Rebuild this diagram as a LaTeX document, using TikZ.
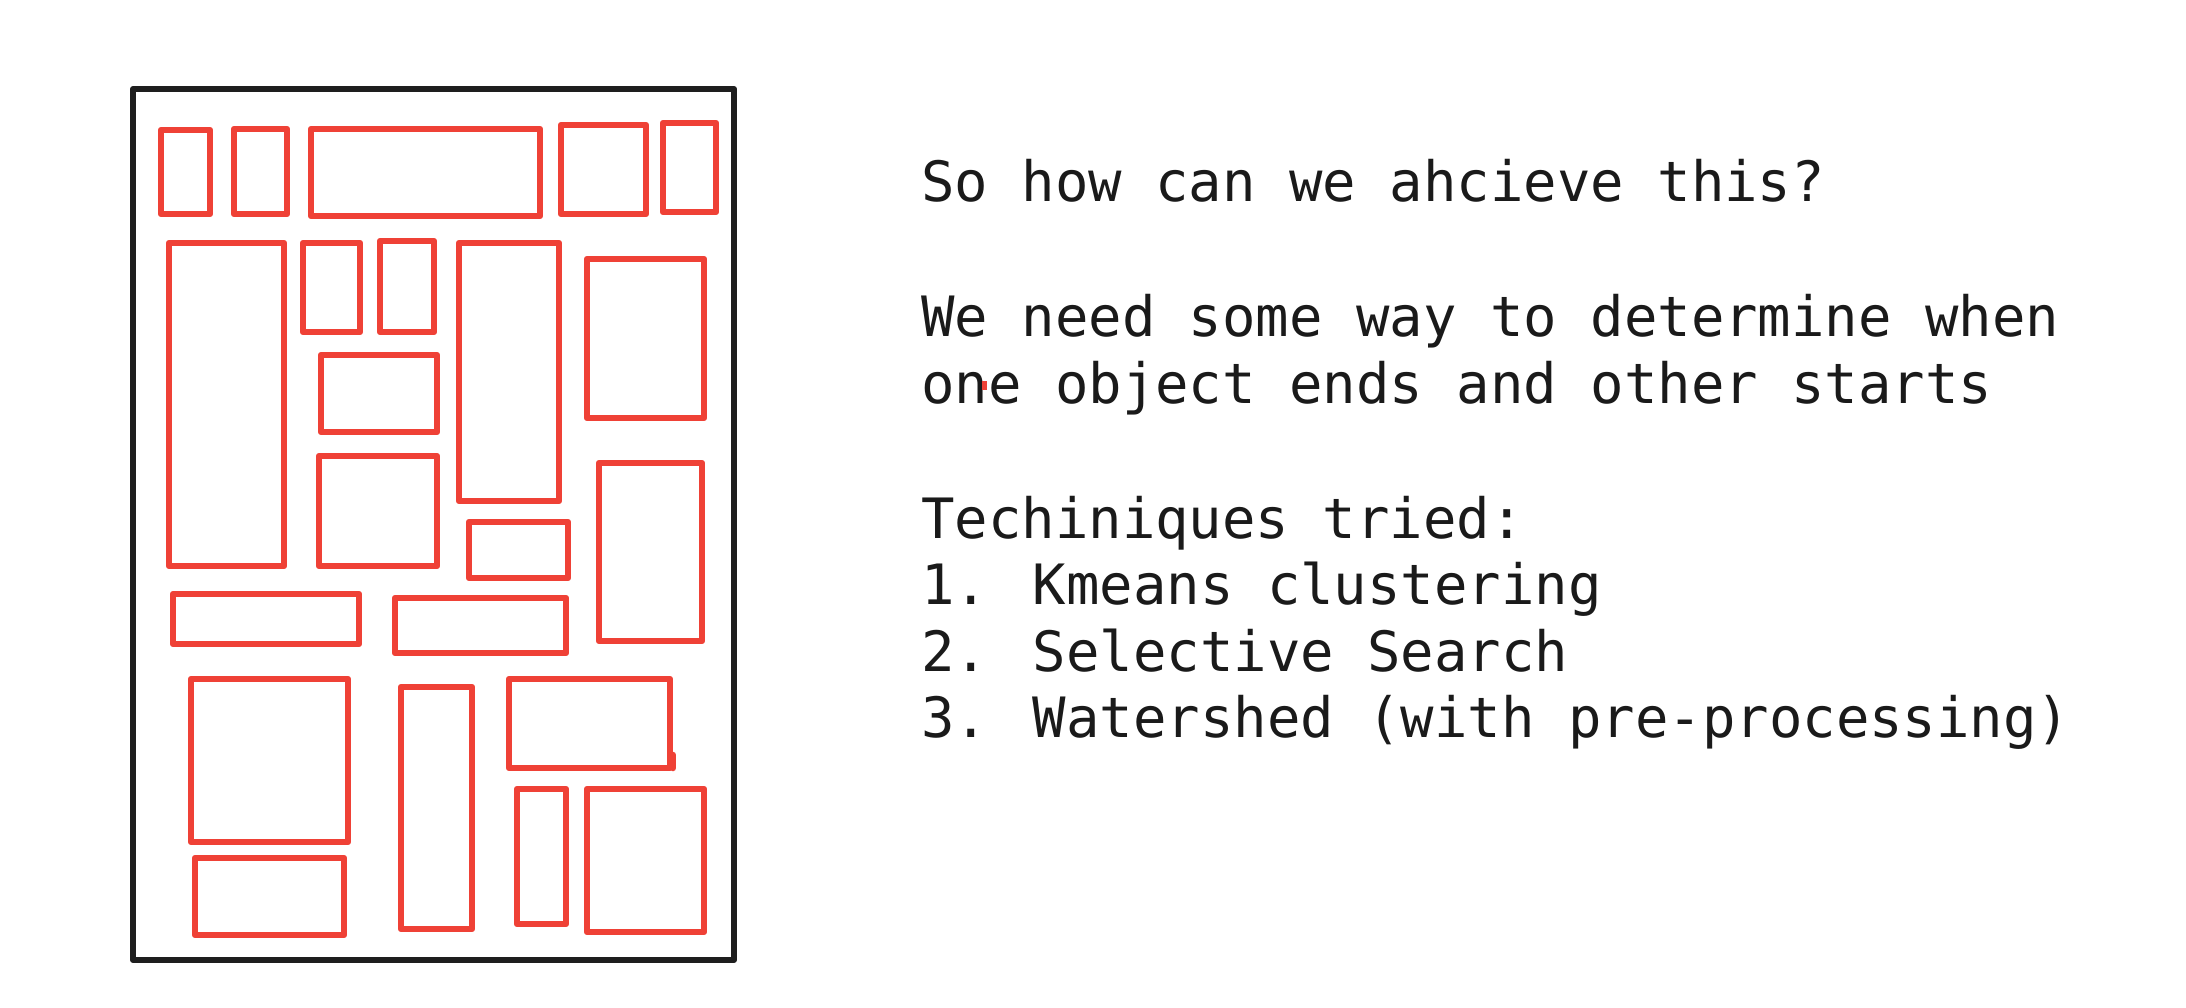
\documentclass[tikz,border=0pt]{standalone}
\usepackage{fontspec}
\newfontfamily\monofont{DejaVu Sans Mono}
\definecolor{boxred}{HTML}{EF4136}
\definecolor{framek}{HTML}{1E1E1E}
\definecolor{textk}{HTML}{1A1A1A}
\begin{document}
\begin{tikzpicture}[x=1pt,y=-1pt,
  redbox/.style={draw=boxred,line width=6.5pt,line join=round,line cap=round},
  framebox/.style={draw=framek,line width=6pt,line join=round},
  txt/.style={anchor=base west,inner sep=0pt,text=textk,font=\monofont\fontsize{55.6}{67}\selectfont}]
\useasboundingbox (0,0) rectangle (2186,1008);
\fill[white] (0,0) rectangle (2186,1008);
% frame
\draw[framebox] (133,89) rectangle (734,960);
% red boxes
\draw[redbox] (161,130) rectangle (210,214);
\draw[redbox] (234,129) rectangle (287,214);
\draw[redbox] (311,129) rectangle (540,216);
\draw[redbox] (561,125) rectangle (646,214);
\draw[redbox] (663,123) rectangle (716,212);
\draw[redbox] (169,243) rectangle (284,566);
\draw[redbox] (303,243) rectangle (360,332);
\draw[redbox] (380,241) rectangle (434,332);
\draw[redbox] (459,243) rectangle (559,501);
\draw[redbox] (587,259) rectangle (704,418);
\draw[redbox] (321,355) rectangle (437,432);
\draw[redbox] (319,456) rectangle (437,566);
\draw[redbox] (469,522) rectangle (568,578);
\draw[redbox] (599,463) rectangle (702,641);
\draw[redbox] (173,594) rectangle (359,644);
\draw[redbox] (395,598) rectangle (566,653);
\draw[redbox] (191,679) rectangle (348,842);
\draw[redbox] (401,687) rectangle (472,929);
\draw[redbox] (509,679) rectangle (670,768);
\draw[redbox] (673,755) -- (673,768);
\draw[redbox] (517,789) rectangle (566,924);
\draw[redbox] (587,789) rectangle (704,932);
\draw[redbox] (195,858) rectangle (344,935);
% text
\node[txt] (t1) at (921,202) {So how can we ahcieve this?};
\node[txt] (t2) at (921,336) {We need some way to determine when};
\node[txt] (t3) at (921,403) {one object ends and other starts};
\node[txt] (t4) at (921,538) {Techiniques tried:};
\node[txt] (t5) at (921,604) {1. Kmeans clustering};
\node[txt] (t6) at (921,671) {2. Selective Search};
\node[txt] (t7) at (921,737) {3. Watershed (with pre-processing)};
\fill[boxred] (982,381) rectangle (987,390);
\end{tikzpicture}
\end{document}
